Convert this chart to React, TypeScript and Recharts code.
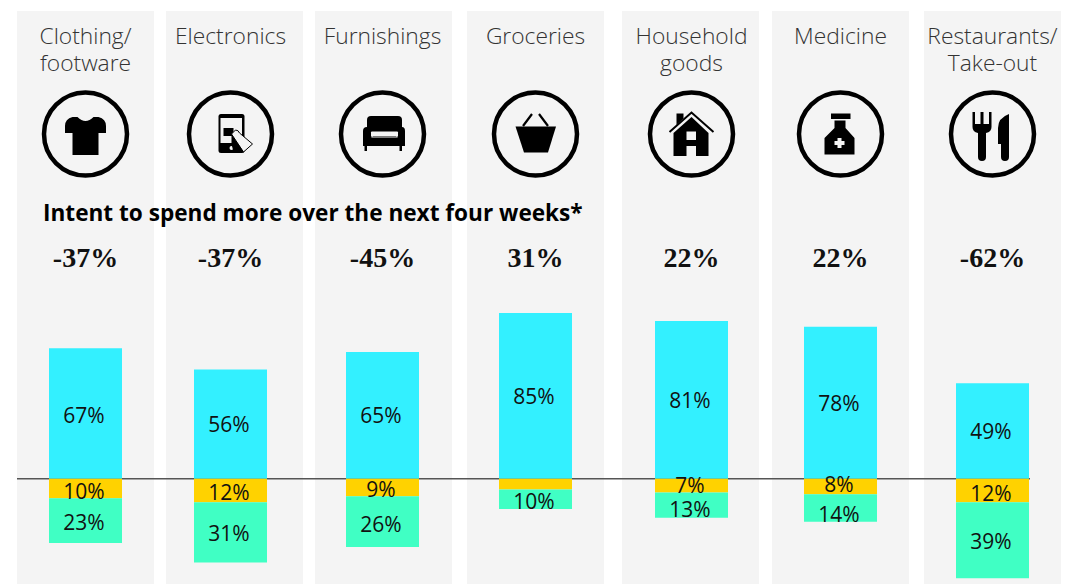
import { Bar, BarChart, LabelList, ReferenceArea, ReferenceLine, XAxis, YAxis } from 'recharts';

const categories = [['Clothing/', 'footware'], ['Electronics'], ['Furnishings'], ['Groceries'], ['Household', 'goods'], ['Medicine'], ['Restaurants/', 'Take-out']];
const intent = ['-37%', '-37%', '-45%', '31%', '22%', '22%', '-62%'];
const upper = [67, 56, 65, 85, 81, 78, 49];
const middle = [10, 12, 9, 5.5, 7, 8, 12];
const lower = [23, 31, 26, 10, 13, 14, 39];

// layout of the columns, which are not evenly spaced in the original
const centres = [85.5, 230.5, 382.5, 535.5, 691.5, 840.5, 992.5];
const panels = [[17, 154], [166, 303], [315, 452], [467, 604], [622, 759], [772, 909], [924, 1061]];
const upperNudge = [2, 0, 0, 0, 0, 0, 0];
const middleNudge = [2, 2, 1, 0, -1, -3, 3];
const lowerNudge = [1, 1, 2, 2, 4, 6, 1];

const data = centres.map((centre, i) => ({
    centre,
    upper: upper[i],
    middle: -middle[i],
    lower: -lower[i],
}));

const sans = '"Open Sans", sans-serif';

const Tee = () => (
    <path d="M-13,-17 L-8,-17 Q0,-9 8,-17 L13,-17 Q20.5,-15 20.5,-8 L20.5,-1 L13,-1 L13,21 L-13,21 L-13,-1 L-20.5,-1 L-20.5,-8 Q-20.5,-15 -13,-17 Z" fill="#000" />
);

const Phone = () => (
    <g>
        <rect x={-12} y={-20} width={26} height={39} rx={2.5} fill="#000" />
        <rect x={-10} y={-16} width={21.5} height={25} fill="#f4f4f4" />
        <circle cx={1} cy={14} r={2} fill="#f4f4f4" />
        <rect x={-7} y={-6} width={10} height={8} fill="#000" />
        <path d="M1,0 L5,-4 Q8,-4 9,-1 L22,10 L13,18 Z" fill="#f4f4f4" stroke="#000" strokeWidth={1} />
        <path d="M1,0 L13,18 L3,18 L1,10 Z" fill="#000" />
    </g>
);

const Sofa = () => (
    <g transform="translate(1.5,0)">
        <path d="M-17,-14 Q-17,-18 -13,-18 L14,-18 Q18,-18 18,-14 L18,-2 L-17,-2 Z" fill="#000" />
        <path d="M-21,-3 Q-21,-7 -17,-7 Q-13,-7 -13,-1 L-13,2 L14,2 L14,-1 Q14,-7 18,-7 Q21,-7 21,-3 L21,12 L-21,12 Z" fill="#000" />
        <path d="M-12,-2 L13,-2 L13,3 L-12,3 Z" fill="none" stroke="#f4f4f4" strokeWidth={1.2} />
        <rect x={-19.5} y={11} width={2.5} height={6} fill="#000" />
        <rect x={15.5} y={11} width={2.5} height={6} fill="#000" />
    </g>
);

const Basket = () => (
    <g>
        <path d="M-20,-7.5 L20.5,-7.5 L12.5,18.5 L-11.5,18.5 Z" fill="#000" />
        <path d="M-12.5,-8 L-3.5,-20 M12.5,-8 L3.5,-20" stroke="#000" strokeWidth={2.2} fill="none" />
    </g>
);

const House = () => (
    <g>
        <path d="M-22,-2 L0,-21.5 L22,-2" fill="none" stroke="#000" strokeWidth={2} />
        <path d="M-15,-20.5 L-8,-20.5 L-8,-15.5 L-15,-9 Z" fill="#000" />
        <path d="M0,-17 L17,-1 L17,22 L4.5,22 L4.5,12 L-5,12 L-5,22 L-18,22 L-18,-1 Z" fill="#000" />
        <rect x={-5} y={-2.5} width={9.5} height={8.5} fill="#f4f4f4" />
    </g>
);

const Bottle = () => (
    <g>
        <rect x={-9.5} y={-20.5} width={19.5} height={5.5} fill="#000" />
        <path d="M-6,-13.5 L5,-13.5 L5,-6 L14,4 L14,20.5 L-16,20.5 L-16,4 L-6,-6 Z" fill="#000" />
        <path d="M-3,4 L1,4 L1,7 L4,7 L4,11 L1,11 L1,14 L-3,14 L-3,11 L-6,11 L-6,7 L-3,7 Z" fill="#f4f4f4" />
    </g>
);

const Cutlery = () => (
    <g>
        <path d="M-20,-22 L-17.5,-22 L-17.5,-10 L-12,-10 L-12,-22 L-9,-22 L-9,-10 L-3.5,-10 L-3.5,-22 L-1,-22 L-1,-7 Q-1,-2 -6.5,-1 L-6.5,23 Q-6.5,27 -10.5,27 Q-14.5,27 -14.5,23 L-14.5,-1 Q-20,-2 -20,-7 Z" fill="#000" />
        <path d="M16.5,-20 L16.5,23 Q16.5,27 12.5,27 Q8.5,27 8.5,23 L8.5,10 L5.5,10 L5.5,-6 Q5.5,-16 16.5,-20 Z" fill="#000" />
    </g>
);

const icons = [Tee, Phone, Sofa, Basket, House, Bottle, Cutlery];

const BarLabel = (nudge: number[]) => (props: any) => {
    const { x, y, width, height, value, index } = props;
    const v = Math.abs(value);
    if (v < 7) return null;
    return (
        <text
            x={x + width / 2 - 1.5}
            y={y + height / 2 + nudge[index]}
            textAnchor="middle"
            dominantBaseline="central"
            fontFamily={sans}
            fontSize={21}
            fill="#111"
        >
            {v}%
        </text>
    );
};

const App = () => {
    return (
        <div style={{ position: 'absolute', left: 0, top: 0, width: 1071, height: 584 }}>
            <BarChart
                width={1071}
                height={584}
                data={data}
                stackOffset="sign"
                barSize={73}
                margin={{ top: 11, right: 0, bottom: 0, left: 0 }}
            >
                <XAxis hide type="number" dataKey="centre" domain={[0, 1071]} />
                <YAxis hide type="number" domain={[-54, 240]} />
                {panels.map(([x1, x2]) => (
                    <ReferenceArea key={x1} x1={x1} x2={x2} fill="#f4f4f4" fillOpacity={1} stroke="none" />
                ))}
                <ReferenceLine segment={[{ x: 17, y: 0 }, { x: 1030, y: 0 }]} stroke="#555" strokeWidth={1.5} zIndex={150} />
                <Bar dataKey="upper" stackId="a" fill="#33f0ff" isAnimationActive={false}>
                    <LabelList dataKey="upper" content={BarLabel(upperNudge)} />
                </Bar>
                <Bar dataKey="middle" stackId="a" fill="#ffd200" isAnimationActive={false}>
                    <LabelList dataKey="middle" content={BarLabel(middleNudge)} />
                </Bar>
                <Bar dataKey="lower" stackId="a" fill="#40ffc4" isAnimationActive={false}>
                    <LabelList dataKey="lower" content={BarLabel(lowerNudge)} />
                </Bar>
            </BarChart>
            {/* headers sit over the grey panels, so they go in their own layer */}
            <svg width={1071} height={584} style={{ position: 'absolute', left: 0, top: 0, pointerEvents: 'none' }}>
                {centres.map((centre, i) => {
                    const Icon = icons[i];
                    return (
                        <g key={centre}>
                            {categories[i].map((line, j) => (
                                <text
                                    key={line}
                                    x={centre}
                                    y={44 + j * 27}
                                    textAnchor="middle"
                                    fontFamily={sans}
                                    fontWeight={300}
                                    fontSize={22.8}
                                    fill="#333"
                                >
                                    {line}
                                </text>
                            ))}
                            <g transform={`translate(${centre},134)`}>
                                <circle r={41.5} fill="none" stroke="#000" strokeWidth={4.5} />
                                <Icon />
                            </g>
                            <text
                                x={centre}
                                y={267}
                                textAnchor="middle"
                                fontFamily='"Liberation Serif", serif'
                                fontWeight={700}
                                fontSize={28}
                                fill="#111"
                            >
                                {intent[i]}
                            </text>
                        </g>
                    );
                })}
                <text x={43} y={221} fontFamily={sans} fontWeight={700} fontSize={22.6} fill="#000">
                    Intent to spend more over the next four weeks*
                </text>
            </svg>
        </div>
    );
};

export default App;
